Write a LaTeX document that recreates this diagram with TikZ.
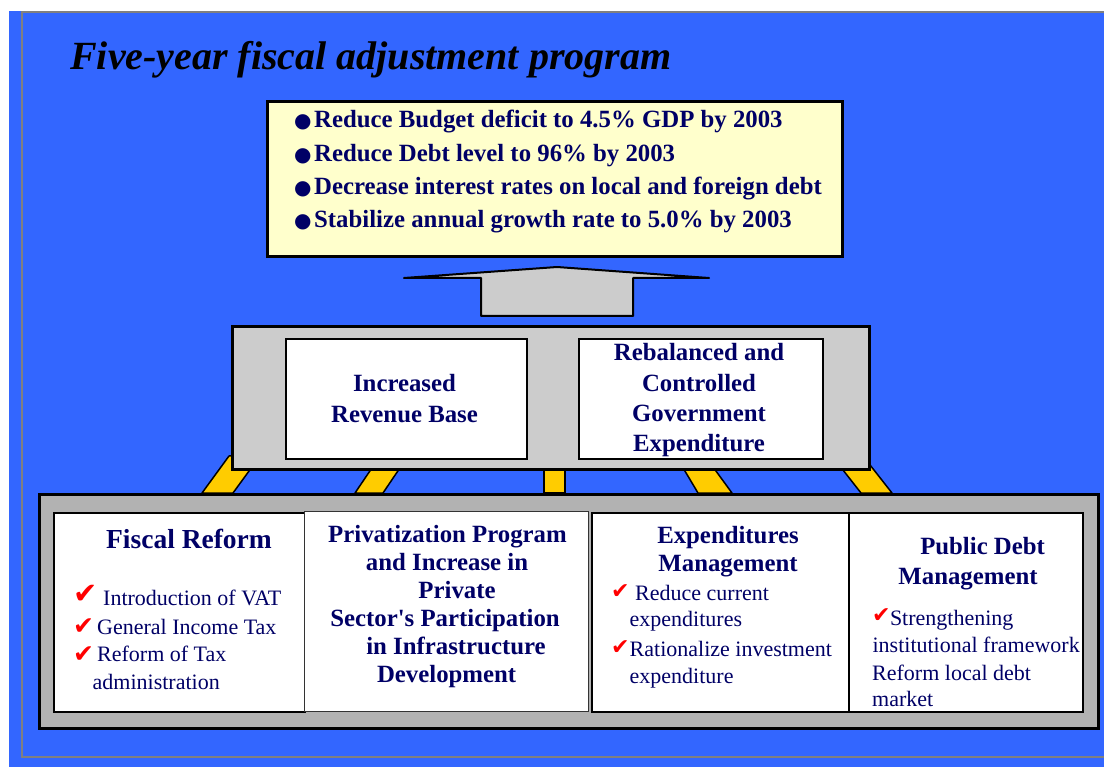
\documentclass[tikz,border=0pt]{standalone}
\usepackage{fontspec}
\usepackage{xcolor}
\usepackage{tikz}
\setmainfont{Liberation Serif}
\newfontfamily\symbolfont{DejaVu Sans}

\definecolor{slideblue}{HTML}{3366FF}
\definecolor{navy}{HTML}{000066}
\definecolor{paleyellow}{HTML}{FFFFCC}
\definecolor{panelgray}{HTML}{CCCCCC}
\definecolor{basegray}{HTML}{B2B2B2}
\definecolor{legyellow}{HTML}{FFCC00}

\begin{document}
\begin{tikzpicture}[x=1pt,y=-1pt,
  panel/.style={draw=black,line width=3pt,anchor=north west,inner sep=0pt},
  whitebox/.style={draw=black,line width=2pt,fill=white,anchor=north west,inner sep=0pt},
  leg/.style={fill=legyellow,draw=black,line width=1.5pt,line join=round},
  goal/.style={anchor=base west,inner sep=0pt,text=navy,font=\fontsize{24.8}{30}\selectfont\bfseries},
  dot/.style={anchor=base west,inner sep=0pt,text=navy,font=\symbolfont\fontsize{20}{24}\selectfont},
  head/.style={anchor=base,inner sep=0pt,text=navy,font=\fontsize{24.8}{30}\selectfont\bfseries},
  item/.style={anchor=base west,inner sep=0pt,text=navy,font=\fontsize{22}{28}\selectfont},
  tick/.style={anchor=base west,inner sep=0pt,text=red,font=\symbolfont\fontsize{22}{24}\selectfont}]
\useasboundingbox (0,0) rectangle (1104,767);
\fill[white] (0,0) rectangle (1104,767);
\fill[slideblue] (8.5,11) rectangle (1104,767);
\draw[gray,line width=1.2pt] (22,12) rectangle (1112,757);

% title
\node[anchor=base west,inner sep=0pt,font=\fontsize{40}{48}\selectfont\bfseries\itshape] (title) at (70,70) {Five-year fiscal adjustment program};

% targets
\node[panel,fill=paleyellow,minimum width=575pt,minimum height=155pt] (targets) at (266,100) {};
\node[dot] (dot1) at (294,128) {●};
\node[goal] (goal1) at (314,128) {Reduce Budget deficit to 4.5\% GDP by 2003};
\node[dot] (dot2) at (294,161.7) {●};
\node[goal] (goal2) at (314,161.7) {Reduce Debt level to 96\% by 2003};
\node[dot] (dot3) at (294,195) {●};
\node[goal] (goal3) at (314,195) {Decrease interest rates on local and foreign debt};
\node[dot] (dot4) at (294,228) {●};
\node[goal] (goal4) at (314,228) {Stabilize annual growth rate to 5.0\% by 2003};

% up arrow
\filldraw[fill=panelgray,draw=black,line width=2pt,line join=round]
  (481,316) -- (481,278) -- (404,278) -- (557,267) -- (709,278) -- (633,278) -- (633,316) -- cycle;

% legs
\filldraw[leg] (202,493) -- (233,493) -- (260,456) -- (229,456) -- cycle;
\filldraw[leg] (355,493) -- (383,493) -- (408,456) -- (380,456) -- cycle;
\filldraw[leg] (544,493) -- (565,493) -- (565,456) -- (544,456) -- cycle;
\filldraw[leg] (698,493) -- (732,493) -- (705,456) -- (676,456) -- cycle;
\filldraw[leg] (861,493) -- (892,493) -- (863,456) -- (832,456) -- cycle;

% middle level
\node[panel,fill=panelgray,minimum width=637pt,minimum height=143pt] (means) at (231,325) {};
\node[whitebox,minimum width=241pt,minimum height=120pt] (revbox) at (285,338) {};
\node[whitebox,minimum width=244pt,minimum height=120pt] (expbox) at (578,338) {};
\node[head] (rev1) at (404.5,391.7) {Increased};
\node[head] (rev2) at (404.5,422.3) {Revenue Base};
\node[head] (exp1) at (699,361) {Rebalanced and};
\node[head] (exp2) at (699,391.7) {Controlled};
\node[head] (exp3) at (699,422) {Government};
\node[head] (exp4) at (699,452) {Expenditure};

% bottom level
\node[panel,fill=basegray,minimum width=1059pt,minimum height=234pt] (base) at (38,493) {};
\node[whitebox,minimum width=251pt,minimum height=199pt] (fisbox) at (53,512) {};
\node[whitebox,minimum width=257pt,minimum height=199pt] (mgtbox) at (591,512) {};
\node[whitebox,minimum width=234pt,minimum height=199pt] (debtbox) at (848,512) {};
\node[draw=black!80,line width=1pt,fill=white,anchor=north west,inner sep=0pt,minimum width=284pt,minimum height=200pt] (privbox) at (304,511) {};

% fiscal reform
\node[head,font=\fontsize{27.5}{32}\selectfont\bfseries] (fis) at (189,548) {Fiscal Reform};
\node[tick,font=\symbolfont\fontsize{29}{30}\selectfont] (fisck1) at (73,603) {✔};
\node[item] (fis1) at (103,605) {Introduction of VAT};
\node[tick,font=\symbolfont\fontsize{25}{26}\selectfont] (fisck2) at (73,634) {✔};
\node[item] (fis2) at (97,634.3) {General Income Tax};
\node[tick,font=\symbolfont\fontsize{25}{26}\selectfont] (fisck3) at (73,662) {✔};
\node[item] (fis3) at (97,661.7) {Reform of Tax};
\node[item] (fis4) at (92.5,689) {administration};

% privatization
\node[head] (priv1) at (447.5,542.7) {Privatization Program};
\node[head] (priv2) at (447,570.7) {and Increase in};
\node[head] (priv3) at (457,598) {Private};
\node[head] (priv4) at (445,626.7) {Sector\textquotesingle s Participation};
\node[head] (priv5) at (456,654) {in Infrastructure};
\node[head] (priv6) at (446.6,682.7) {Development};

% expenditures management
\node[head] (mgt1) at (728,543.3) {Expenditures};
\node[head] (mgt2) at (728,571.7) {Management};
\node[tick] (mgtck1) at (611,598) {✔};
\node[item] (mgt3) at (635,600.7) {Reduce current};
\node[item] (mgt4) at (629.5,626.7) {expenditures};
\node[tick] (mgtck2) at (611,654) {✔};
\node[item] (mgt5) at (629.5,656) {Rationalize investment};
\node[item] (mgt6) at (629.5,683.3) {expenditure};

% public debt
\node[head] (debt1) at (982.6,554) {Public Debt};
\node[head] (debt2) at (968,584) {Management};
\node[tick] (debtck) at (872,622) {✔};
\node[item] (debt3) at (889.8,625.7) {Strengthening};
\node[item] (debt4) at (872.4,652.7) {institutional framework};
\node[item] (debt5) at (872,680) {Reform local debt};
\node[item] (debt6) at (872,706.7) {market};
\end{tikzpicture}
\end{document}
